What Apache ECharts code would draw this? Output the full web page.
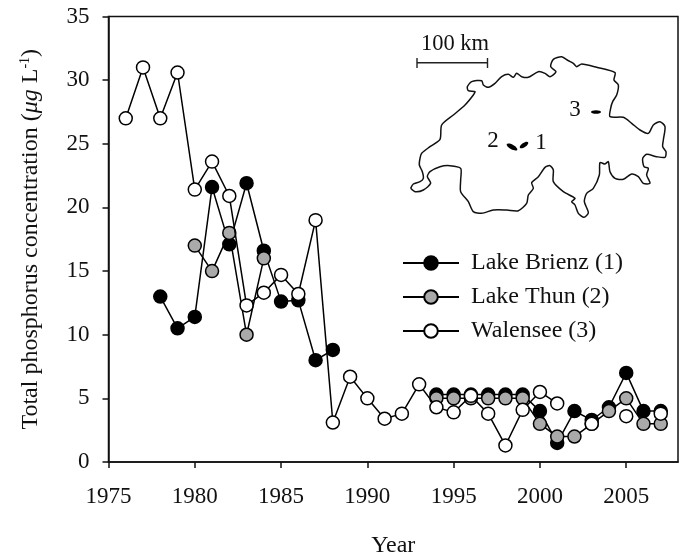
<!DOCTYPE html>
<html><head><meta charset="utf-8">
<style>html,body{margin:0;padding:0;background:#fff}#c{width:684px;height:556px}</style>
<script src="https://cdn.jsdelivr.net/npm/echarts@6/dist/echarts.min.js"></script>
</head><body><div id="c"></div>
<script>
const years = [1976,1977,1978,1979,1980,1981,1982,1983,1984,1985,1986,1987,1988,1989,1990,1991,1992,1993,1994,1995,1996,1997,1998,1999,2000,2001,2002,2003,2004,2005,2006,2007];
const brienz = [null,null,13,10.5,11.4,21.6,17.1,21.9,16.6,12.6,12.7,8,8.8,null,null,null,null,null,5.3,5.3,5.3,5.3,5.3,5.3,4,1.5,4,3.3,4.3,7,4,4];
const thun = [null,null,null,null,17,15,18,10,16,null,null,null,null,null,null,null,null,null,5,5,5,5,5,5,3,2,2,3,4,5,3,3];
const walensee = [27,31,27,30.6,21.4,23.6,20.9,12.3,13.3,14.7,13.2,19,3.1,6.7,5,3.4,3.8,6.1,4.3,3.9,5.2,3.8,1.3,4.1,5.5,4.6,null,3,null,3.6,null,3.8];
const xTicks = [1975,1980,1985,1990,1995,2000,2005];
const seriesNames = ['Lake Brienz (1)','Lake Thun (2)','Walensee (3)'];

// Decorative inset map outline (traced shape, not chart data)
const outline = [[62,505],[70,492],[90,485],[100,475],[97,455],[88,435],[90,415],[95,400],[120,380],[150,358],[155,315],[190,285],[225,255],[250,225],[255,215],[235,212],[232,200],[245,185],[275,182],[280,195],[295,202],[315,190],[335,170],[355,163],[370,172],[380,160],[395,170],[415,172],[445,155],[465,160],[480,170],[498,155],[482,140],[490,118],[515,110],[535,122],[550,130],[560,140],[575,132],[620,142],[675,158],[672,180],[685,195],[680,225],[668,245],[662,265],[660,290],[700,292],[725,310],[750,330],[775,340],[790,315],[810,305],[825,320],[820,360],[818,380],[828,395],[825,412],[800,410],[770,403],[758,415],[762,440],[775,445],[770,465],[780,490],[760,490],[745,470],[725,462],[700,478],[675,475],[660,455],[655,425],[645,432],[630,428],[628,465],[610,505],[590,520],[583,545],[595,578],[582,592],[565,580],[555,555],[545,545],[555,535],[520,515],[490,485],[490,450],[480,437],[465,442],[445,470],[425,488],[430,505],[415,525],[410,550],[385,572],[350,570],[310,570],[275,580],[250,575],[235,545],[212,515],[212,480],[212,445],[180,437],[150,440],[120,455],[112,470],[122,490],[100,510],[75,515],[62,505]];

const FONT = '"Liberation Serif"';
const pair = arr => years.map((y,i)=>[y,arr[i]]);
const mk = (name,data,fill,z)=>({
  name, type:'line', data:pair(data), z, connectNulls:false,
  symbol:'circle', symbolSize:13, showSymbol:true, showAllSymbol:true,
  lineStyle:{color:'#000',width:1.5},
  itemStyle:{color:fill,borderColor:'#000',borderWidth:1.5},
  emphasis:{disabled:true}, animation:false
});
const txt = (t,x,y,size)=>({type:'text',x,y,z:20,style:{text:t,font:`${size}px ${FONT}`,fill:'#111',textAlign:'center',textVerticalAlign:'middle'}});
const lake = (x,y,rx,ry,rotation)=>({type:'ellipse',x,y,rotation,z:20,shape:{cx:0,cy:0,rx,ry},style:{fill:'#000'}});
const line = (x1,y1,x2,y2,w)=>({type:'line',z:20,shape:{x1,y1,x2,y2},style:{stroke:'#222',lineWidth:w}});

const chart = echarts.init(document.getElementById('c'),null,{renderer:'canvas'});
chart.setOption({
  animation:false,
  backgroundColor:'#fff',
  grid:{left:108.5,right:6,top:16.5,bottom:94,show:true,outerBoundsMode:'none',borderColor:'#111',borderWidth:1.5,backgroundColor:'transparent'},
  xAxis:{type:'value',min:1975,max:2008,interval:5,splitLine:{show:false},
    name:'Year',nameLocation:'middle',nameGap:72,
    nameTextStyle:{fontFamily:FONT,fontSize:24,color:'#111'},
    axisLine:{show:true,lineStyle:{color:'#111',width:1.5}},
    axisTick:{show:true,length:6,lineStyle:{color:'#111',width:1.5},customValues:xTicks},
    axisLabel:{customValues:xTicks,formatter:v=>String(v),fontFamily:FONT,fontSize:23,color:'#111',margin:23}},
  yAxis:{type:'value',min:0,max:35,interval:5,splitLine:{show:false},
    name:'{a|Total phosphorus concentration (}{i|\u03BCg}{a| L}{s|-1}{a|)}',nameLocation:'middle',nameGap:66,
    nameTextStyle:{rich:{
      a:{fontFamily:FONT,fontSize:24,color:'#111'},
      i:{fontFamily:FONT,fontSize:24,color:'#111',fontStyle:'italic'},
      s:{fontFamily:FONT,fontSize:14,color:'#111',verticalAlign:'top',padding:[0,0,6,0]}}},
    axisLine:{show:true,onZero:false,lineStyle:{color:'#111',width:1.5}},
    axisTick:{show:true,length:6,lineStyle:{color:'#111',width:1.5}},
    axisLabel:{fontFamily:FONT,fontSize:23,color:'#111',margin:19}},
  legend:{show:true,orient:'vertical',left:397,top:246,itemWidth:56,itemHeight:17,itemGap:10,
    data:seriesNames,selectedMode:false,
    textStyle:{fontFamily:FONT,fontSize:24,color:'#111',padding:[0,0,0,7]}},
  series:[mk(seriesNames[0],brienz,'#000',3),mk(seriesNames[1],thun,'#aaaaaa',4),mk(seriesNames[2],walensee,'#fff',5)],
  graphic:{elements:[
    {type:'polyline',z:20,shape:{points:outline.map(p=>[390+p[0]/3,20+p[1]/3]),smooth:0.25},style:{stroke:'#111',lineWidth:1.5,fill:null}},
    line(417,62.7,487.5,62.7,1.4),line(417,58,417,68,1.4),line(487.5,58,487.5,68,1.4),
    txt('100 km',455,44,22.5),
    txt('3',575,110,23),txt('2',493,141,23),txt('1',541,143,23),
    lake(596,112,5,1.8,0),lake(512,147,6,2.4,-0.5),lake(524,145,5,2.2,0.6)
  ]}
});
</script></body></html>
